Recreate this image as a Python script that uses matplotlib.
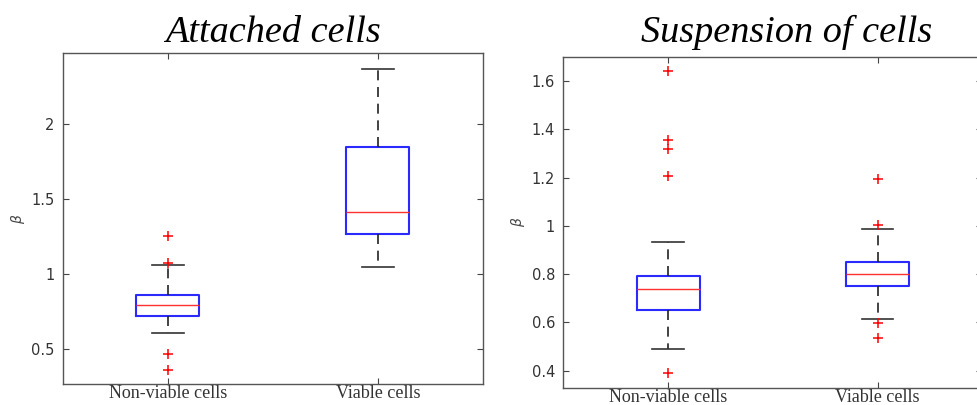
import matplotlib.pyplot as plt

# box statistics (MATLAB style boxplots)
groups = ["Non-viable cells", "Viable cells"]

att_q1 = [0.725, 1.267]
att_med = [0.796, 1.415]
att_q3 = [0.863, 1.847]
att_lo = [0.608, 1.046]
att_hi = [1.062, 2.367]
att_fliers = [[1.256, 1.077, 0.468, 0.365], []]

sus_q1 = [0.652, 0.753]
sus_med = [0.739, 0.801]
sus_q3 = [0.794, 0.850]
sus_lo = [0.491, 0.614]
sus_hi = [0.933, 0.989]
sus_fliers = [[1.641, 1.356, 1.319, 1.208, 0.389], [1.196, 1.005, 0.597, 0.535]]


def make_stats(q1, med, q3, lo, hi, fliers):
    stats = []
    for i in range(len(groups)):
        stats.append({
            "q1": q1[i], "med": med[i], "q3": q3[i],
            "whislo": lo[i], "whishi": hi[i],
            "fliers": fliers[i], "label": groups[i],
        })
    return stats


def draw(ax, stats, title, ylim, yticks, title_x, title_pad):
    ax.bxp(
        stats, widths=0.3, showfliers=True,
        boxprops=dict(color="#2a2aff", lw=1.5),
        medianprops=dict(color="#ff3030", lw=1.0),
        whiskerprops=dict(color="#222222", lw=1.2, linestyle=(0, (6, 4))),
        capprops=dict(color="#333333", lw=1.2),
        flierprops=dict(marker="+", markeredgecolor="red", markersize=7,
                        markeredgewidth=1.1),
    )
    ax.set_xlim(0.5, 2.5)
    ax.set_ylim(*ylim)
    ax.set_yticks(yticks)
    ax.set_yticklabels([f"{t:g}" for t in yticks])
    ax.tick_params(direction="in", top=True, right=True, length=4,
                   color="#444444", width=0.8)
    ax.tick_params(axis="y", labelsize=10.5, labelcolor="#333333", pad=6)
    ax.tick_params(axis="x", pad=1)
    for lab in ax.get_xticklabels():
        lab.set_fontfamily("Liberation Serif")
        lab.set_fontsize(13)
        lab.set_color("#333333")
    for sp in ax.spines.values():
        sp.set_color("#555555")
        sp.set_linewidth(1.0)
    ax.set_ylabel(r"$\beta$", fontsize=10, color="#444444", labelpad=3)
    ax.set_title(title, fontfamily="Liberation Serif", fontstyle="italic",
                 fontsize=27.5, x=title_x, pad=title_pad)


fig = plt.figure(figsize=(9.78, 4.05), dpi=100)
ax1 = fig.add_axes([0.0644, 0.0519, 0.4294, 0.817])
ax2 = fig.add_axes([0.576, 0.0427, 0.4285, 0.817])

draw(ax1, make_stats(att_q1, att_med, att_q3, att_lo, att_hi, att_fliers),
     "Attached cells", (0.27, 2.47), [0.5, 1, 1.5, 2], 0.5, 8)
draw(ax2, make_stats(sus_q1, sus_med, sus_q3, sus_lo, sus_hi, sus_fliers),
     "Suspension of cells", (0.33, 1.70), [0.4, 0.6, 0.8, 1, 1.2, 1.4, 1.6],
     0.534, 10.5)

fig.savefig("out.png", dpi=100)
